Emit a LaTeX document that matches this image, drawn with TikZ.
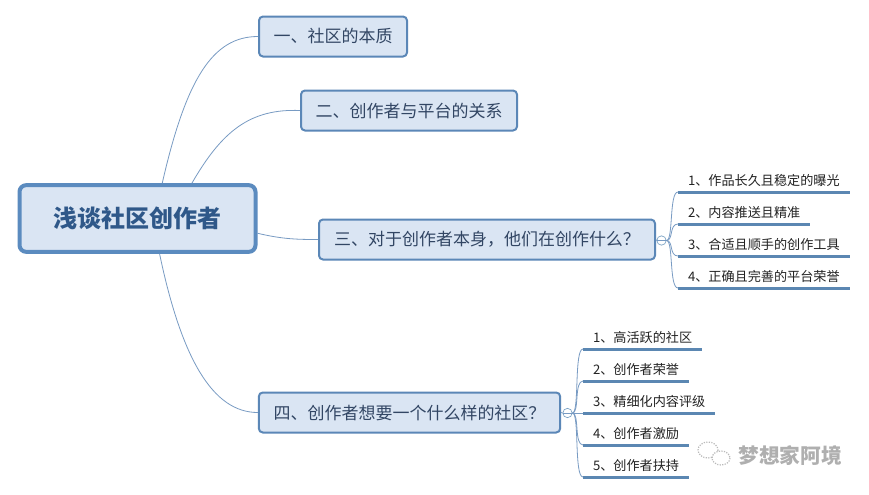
\documentclass[tikz,border=0pt]{standalone}
\usepackage{fontspec}
\setmainfont{Noto Sans CJK SC}

\tikzset{
  rootbox/.style={draw={rgb,255:red,91;green,139;blue,191},fill={rgb,255:red,218;green,229;blue,243},line width=3pt,rounded corners=5pt,text={rgb,255:red,47;green,88;blue,137},font=\fontsize{18}{20}\selectfont\bfseries,minimum width=177pt,minimum height=50pt,inner sep=0pt},
  topicbox/.style={draw={rgb,255:red,91;green,135;blue,183},fill={rgb,255:red,218;green,229;blue,243},line width=1.5pt,rounded corners=3pt,text={rgb,255:red,50;green,70;blue,100},font=\fontsize{12.75}{15}\selectfont,minimum height=30pt,inner sep=0pt},
  leafitem/.style={anchor=south west,inner xsep=7.5pt,inner ysep=4.4pt,outer sep=0pt,text={rgb,255:red,35;green,35;blue,35},font=\fontsize{9.85}{11}\selectfont},
  leafline/.style={draw={rgb,255:red,91;green,135;blue,178},line width=2.25pt},
  branchline/.style={draw={rgb,255:red,120;green,155;blue,195},line width=0.6pt},
  foldmark/.style={circle,draw={rgb,255:red,120;green,160;blue,195},fill=white,line width=0.5pt,minimum size=7pt,inner sep=0pt},
  stamptext/.style={text={rgb,255:red,175;green,175;blue,175},font=\fontsize{15.5}{17}\selectfont\bfseries,inner sep=0pt},
}

\begin{document}
\begin{tikzpicture}[x=0.75pt,y=0.75pt,yscale=-1,xscale=1]
\useasboundingbox (0,0) rectangle (869,494);
\fill [white] (0,0) rectangle (869,494);

% Root
\node [rootbox] (root) at (137.5,218.5) {浅谈社区创作者};
% Topics
\node [topicbox,minimum width=111pt] (topicA) at (333,36.5) {一、社区的本质};
\node [topicbox,minimum width=162pt] (topicB) at (409,110.5) {二、创作者与平台的关系};
\node [topicbox,minimum width=252pt] (topicC) at (487,239.5) {三、对于创作者本身，他们在创作什么？};
\node [topicbox,minimum width=226pt] (topicD) at (409.5,412.5) {四、创作者想要一个什么样的社区？};

%Fold marks
\node [foldmark] (foldC) at (661.5,240.5) {};
\draw [branchline] (foldC.west) -- (foldC.east);
\node [foldmark] (foldD) at (567.5,413) {};
\draw [branchline] (foldD.west) -- (foldD.east);

% Leaves of topic three
\node [leafitem] (itemCa) at (678,192) {1、作品长久且稳定的曝光};
\node [leafitem] (itemCb) at (678,224) {2、内容推送且精准};
\node [leafitem] (itemCc) at (678,256) {3、合适且顺手的创作工具};
\node [leafitem] (itemCd) at (678,288) {4、正确且完善的平台荣誉};
% Leaves of topic four
\node [leafitem] (itemDa) at (583,349) {1、高活跃的社区};
\node [leafitem] (itemDb) at (583,381) {2、创作者荣誉};
\node [leafitem] (itemDc) at (583,413) {3、精细化内容评级};
\node [leafitem] (itemDd) at (583,445) {4、创作者激励};
\node [leafitem] (itemDe) at (583,477) {5、创作者扶持};

%Straight Lines
\draw [leafline] (itemCa.south west) -- (itemCa.south east);
\draw [leafline] (itemCb.south west) -- (itemCb.south east);
\draw [leafline] (itemCc.south west) -- (itemCc.south east);
\draw [leafline] (itemCd.south west) -- (itemCd.south east);
\draw [leafline] (itemDa.south west) -- (itemDa.south east);
\draw [leafline] (itemDb.south west) -- (itemDb.south east);
\draw [leafline] (itemDc.south west) -- (itemDc.south east);
\draw [leafline] (itemDd.south west) -- (itemDd.south east);
\draw [leafline] (itemDe.south west) -- (itemDe.south east);

%Curves from root
\draw [branchline] (root.55.7) .. controls +(24,-105) and +(-45,0) .. (topicA.west);
\draw [branchline] (root.33) .. controls +(30,-52) and +(-50,-2) .. (topicB.west);
\draw [branchline] (root.-7.4) .. controls +(25,6) and +(-20,0) .. (topicC.west);
\draw [branchline] (root.-58) .. controls +(22,105) and +(-45,0) .. (topicD.west);
\draw [branchline] (topicC.east) -- (foldC.west);
\draw [branchline] (topicD.east) -- (foldD.west);

%Curves from fold marks
\draw [branchline] (foldC.east) .. controls +(7,0) and +(-9,0) .. (itemCa.south west);
\draw [branchline] (foldC.east) .. controls +(7,0) and +(-9,0) .. (itemCb.south west);
\draw [branchline] (foldC.east) .. controls +(7,0) and +(-9,0) .. (itemCc.south west);
\draw [branchline] (foldC.east) .. controls +(7,0) and +(-9,0) .. (itemCd.south west);
\draw [branchline] (foldD.east) .. controls +(7,0) and +(-9,0) .. (itemDa.south west);
\draw [branchline] (foldD.east) .. controls +(7,0) and +(-9,0) .. (itemDb.south west);
\draw [branchline] (foldD.east) -- (itemDc.south west);
\draw [branchline] (foldD.east) .. controls +(7,0) and +(-9,0) .. (itemDd.south west);
\draw [branchline] (foldD.east) .. controls +(7,0) and +(-9,0) .. (itemDe.south west);

%Shape: stamp icon
\draw [draw={rgb,255:red,185;green,185;blue,185},densely dotted,line width=0.9pt] (708,450) ellipse [x radius=10,y radius=8];
\draw [draw={rgb,255:red,185;green,185;blue,185},densely dotted,line width=0.9pt,fill=white] (721,458) ellipse [x radius=9,y radius=7];
% Text Node
\node [stamptext] (stamp) at (790,456) {梦想家阿境};

\end{tikzpicture}
\end{document}
